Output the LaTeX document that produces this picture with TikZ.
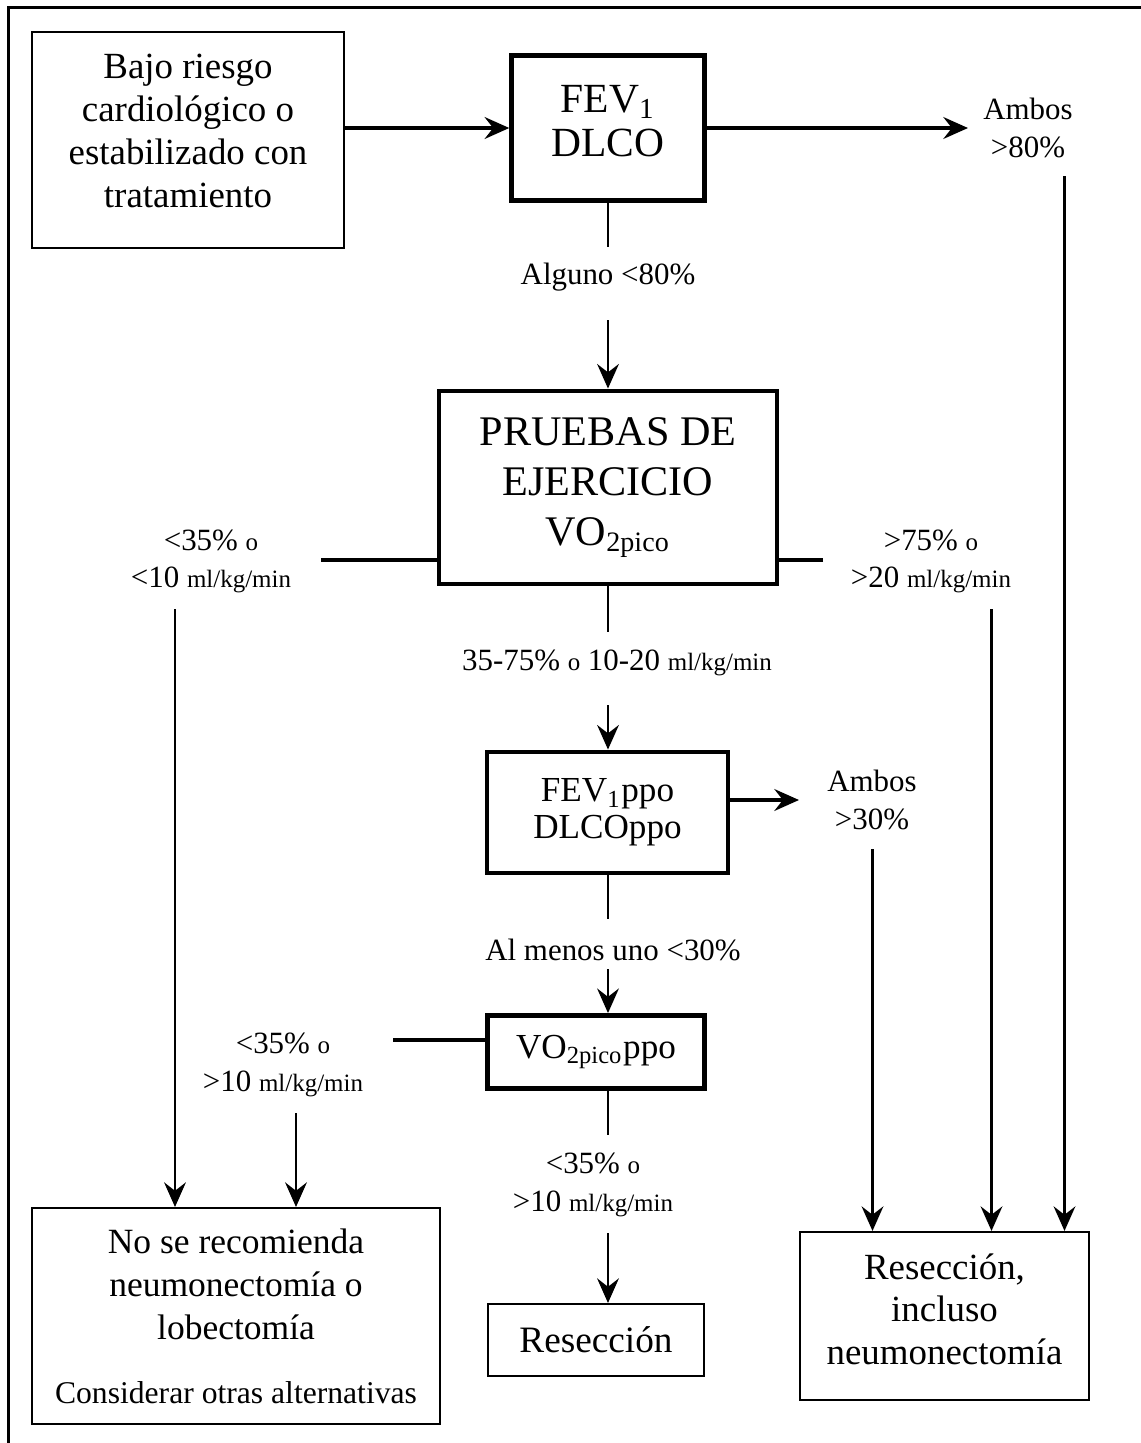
\documentclass[tikz,border=0pt]{standalone}
\usepackage{fontspec}
\setmainfont{Liberation Serif}
\usetikzlibrary{arrows.meta}
\newcommand{\smtxt}[1]{{\fontsize{7.1}{8}\selectfont #1}}
\newcommand{\lift}[1]{\rule[-#1]{0pt}{0pt}}
\begin{document}
\begin{tikzpicture}[x=1cm,y=-1cm,
    box/.style={draw,line width=0.6pt,align=center,inner sep=0pt},
    bigbox/.style={box,line width=1.4pt},
    lbl/.style={align=center,inner sep=0pt,font=\fontsize{8.8}{10.6}\selectfont},
    vline/.style={line width=0.6pt},
    hline/.style={line width=1pt},
    tip/.style={-{Stealth[length=7pt,width=6.2pt,inset=2.4pt]}}]
  \useasboundingbox (0,0) rectangle (11.41,14.43);
  \draw[line width=0.9pt] (0.085,14.43) -- (0.085,0.075) -- (11.41,0.075);

  % boxes
  \node[box,minimum width=3.115cm,minimum height=2.16cm,
        font=\fontsize{10.5}{12.2}\selectfont] (bajo) at (1.88,1.40)
        {Bajo riesgo\\cardiológico o\\estabilizado con\\tratamiento\lift{5.2pt}};
  \node[bigbox,minimum width=1.925cm,minimum height=1.457cm,
        font=\fontsize{11.8}{12.5}\selectfont] (fev) at (6.08,1.28)
        {FEV\textsubscript{1}\\DLCO\lift{4.2pt}};
  \node[bigbox,minimum width=3.38cm,minimum height=1.93cm,
        font=\fontsize{12}{14.2}\selectfont] (pru) at (6.08,4.875)
        {PRUEBAS DE\\EJERCICIO\\VO\textsubscript{2pico}};
  \node[bigbox,minimum width=2.41cm,minimum height=1.21cm,
        font=\fontsize{10}{10.5}\selectfont] (ppo) at (6.075,8.125)
        {FEV\textsubscript{1}ppo\\DLCOppo};
  \node[bigbox,minimum width=2.17cm,minimum height=0.73cm,
        font=\fontsize{10}{11}\selectfont] (vo) at (5.96,10.52)
        {VO\textsubscript{2pico}ppo};
  \node[box,minimum width=4.08cm,minimum height=2.16cm,
        font=\fontsize{10.1}{12.2}\selectfont] (nose) at (2.36,13.16)
        {No se recomienda\\neumonectomía o\\lobectomía\\[6pt]
         {\fontsize{9}{10}\selectfont Considerar otras alternativas}};
  \node[box,minimum width=2.165cm,minimum height=0.72cm,
        font=\fontsize{10.6}{12}\selectfont] (res) at (5.96,13.40) {Resección};
  \node[box,minimum width=2.89cm,minimum height=1.68cm,
        font=\fontsize{10.5}{12.1}\selectfont] (resall) at (9.445,13.16)
        {Resección,\\incluso\\neumonectomía\lift{4pt}};

  % labels
  \node[lbl] (ambosA) at (10.28,1.28) {Ambos\\>80\%};
  \node[lbl] (alguno) at (6.08,2.77) {Alguno <80\%};
  \node[lbl] (lowL)   at (2.11,5.615) {<35\% \smtxt{o}\\<10 \smtxt{ml/kg/min}};
  \node[lbl] (highR)  at (9.31,5.615) {>75\% \smtxt{o}\\>20 \smtxt{ml/kg/min}};
  \node[lbl] (mid)    at (6.17,6.63) {35-75\% \smtxt{o} 10-20 \smtxt{ml/kg/min}};
  \node[lbl] (ambosB) at (8.72,8.00) {Ambos\\>30\%};
  \node[lbl] (menos)  at (6.13,9.50) {Al menos uno <30\%};
  \node[lbl] (lowL2)  at (2.83,10.65) {<35\% \smtxt{o}\\>10 \smtxt{ml/kg/min}};
  \node[lbl] (lowC)   at (5.93,11.85) {<35\% \smtxt{o}\\>10 \smtxt{ml/kg/min}};

  % free ends of the connectors
  \coordinate (aA)  at (9.68,1.28);
  \coordinate (aA2) at (10.645,1.76);
  \coordinate (al1) at (6.08,2.47);
  \coordinate (al2) at (6.08,3.20);
  \coordinate (pl)  at (3.21,5.60);
  \coordinate (pr)  at (8.23,5.60);
  \coordinate (l1)  at (1.75,6.09);
  \coordinate (r1)  at (9.915,6.09);
  \coordinate (m1)  at (6.08,6.32);
  \coordinate (m2)  at (6.08,7.05);
  \coordinate (aB)  at (7.99,8.00);
  \coordinate (aB2) at (8.725,8.49);
  \coordinate (me1) at (6.08,9.19);
  \coordinate (me2) at (6.08,9.69);
  \coordinate (vl)  at (3.93,10.40);
  \coordinate (l2)  at (2.96,11.13);
  \coordinate (c1)  at (6.08,11.35);
  \coordinate (c2)  at (6.08,12.33);

  % connectors
  \draw[hline,tip] (bajo.east |- fev) -- (fev);
  \draw[hline,tip] (fev) -- (aA);
  \draw[vline] (fev) -- (al1);
  \draw[vline,tip] (al2) -- (al2 |- pru.north);
  \draw[hline] (pl) -- (pl -| pru.west);
  \draw[hline] (pr) -- (pr -| pru.east);
  \draw[vline] (m1 |- pru.south) -- (m1);
  \draw[vline,tip] (m2) -- (m2 |- ppo.north);
  \draw[hline,tip] (ppo.east |- aB) -- (aB);
  \draw[vline] (me1 |- ppo.south) -- (me1);
  \draw[vline,tip] (me2) -- (me2 |- vo.north);
  \draw[hline] (vl) -- (vl -| vo.west);
  \draw[vline] (c1 |- vo.south) -- (c1);
  \draw[vline,tip] (c2) -- (c2 |- res.north);
  \draw[vline,tip] (l1) -- (l1 |- nose.north);
  \draw[vline,tip] (l2) -- (l2 |- nose.north);
  \draw[vline,tip] (r1) -- (r1 |- resall.north);
  \draw[vline,tip] (aB2) -- (aB2 |- resall.north);
  \draw[vline,tip] (aA2) -- (aA2 |- resall.north);
\end{tikzpicture}
\end{document}
